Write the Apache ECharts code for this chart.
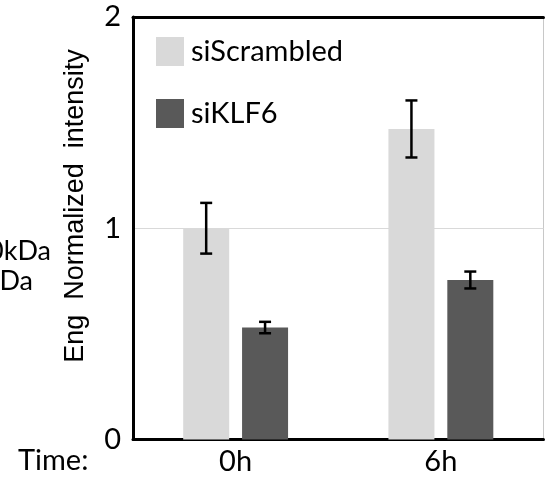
<!DOCTYPE html>
<html>
<head>
<meta charset="utf-8">
<script src="https://cdn.jsdelivr.net/npm/echarts@6/dist/echarts.min.js"></script>
<style>
html,body{margin:0;padding:0;background:#fff;}
#chart{width:545px;height:482px;}
</style>
</head>
<body>
<div id="chart"></div>
<script>
const categories = ['0h', '6h'];
const seriesNames = ['siScrambled', 'siKLF6'];
const siScrambled = [1.0, 1.47];
const siScrambledErr = [0.12, 0.135];
const siKLF6 = [0.53, 0.755];
const siKLF6Err = [0.027, 0.04];
const yTicks = [0, 1, 2];

const BAR_W = 46;
const BAR_GAP = 0.28;
const calibriLike = 'Lato, "Open Sans", sans-serif';

function errData(vals, errs, sIdx) {
  return vals.map((v, i) => [i, v - errs[i], v + errs[i], sIdx]);
}

const chart = echarts.init(document.getElementById('chart'), null, {renderer: 'canvas'});

const option = {
  animation: false,
  backgroundColor: '#fff',
  grid: {
    left: 133, right: 1.5, top: 17, bottom: 42.5,
    show: true, borderColor: '#c8c8c8', borderWidth: 1, backgroundColor: '#fff'
  },
  legend: {
    data: seriesNames,
    orient: 'vertical',
    left: 151, top: 32,
    itemWidth: 28, itemHeight: 29, itemGap: 33,
    icon: 'rect',
    textStyle: {fontFamily: calibriLike, fontSize: 29, color: '#000', padding: [0, 0, 0, 2]}
  },
  xAxis: [{
    type: 'category', data: categories, position: 'bottom',
    axisLine: {show: true, lineStyle: {color: '#000', width: 3}},
    axisTick: {show: false},
    axisLabel: {fontFamily: calibriLike, fontSize: 29, color: '#000', margin: 8}
  }, {
    type: 'category', data: categories, position: 'top',
    axisLine: {show: true, lineStyle: {color: '#000', width: 3}},
    axisTick: {show: false}, axisLabel: {show: false}
  }],
  yAxis: {
    type: 'value', min: yTicks[0], max: yTicks[yTicks.length - 1], interval: 1,
    axisLine: {show: true, lineStyle: {color: '#000', width: 3}},
    axisTick: {show: false},
    splitLine: {show: true, lineStyle: {color: '#d9d9d9', width: 1}},
    axisLabel: {fontFamily: calibriLike, fontSize: 29, color: '#000', margin: 12}
  },
  graphic: [
    {type: 'text', left: 18, top: 446, style: {text: 'Time:', font: '29px ' + calibriLike, fill: '#000'}},
    {type: 'text', x: 51, y: 251, style: {text: '0kDa', font: '27px ' + calibriLike, fill: '#000', textAlign: 'right', textVerticalAlign: 'middle'}},
    {type: 'text', x: 33, y: 281, style: {text: 'Da', font: '27px ' + calibriLike, fill: '#000', textAlign: 'right', textVerticalAlign: 'middle'}},
    {type: 'text', x: 76, y: 206, rotation: Math.PI / 2,
     style: {text: 'Eng  Normalized  intensity', font: '27px "Liberation Sans", Arial, sans-serif', fill: '#000', textAlign: 'center', textVerticalAlign: 'middle'}}
  ],
  series: [
    {name: seriesNames[0], type: 'bar', data: siScrambled, barWidth: BAR_W, barGap: (BAR_GAP * 100) + '%',
     itemStyle: {color: '#d9d9d9'}},
    {name: seriesNames[1], type: 'bar', data: siKLF6, barWidth: BAR_W,
     itemStyle: {color: '#595959'}},
    {
      type: 'custom', z: 10,
      data: errData(siScrambled, siScrambledErr, 0).concat(errData(siKLF6, siKLF6Err, 1)),
      renderItem: function (params, api) {
        const c = api.value(0);
        const lo = api.coord([c, api.value(1)]);
        const hi = api.coord([c, api.value(2)]);
        const off = (BAR_W * (1 + BAR_GAP)) / 2 * (api.value(3) === 0 ? -1 : 1);
        const x = lo[0] + off;
        const hw = 6;
        const st = {stroke: '#000', lineWidth: 2.5};
        return {
          type: 'group',
          children: [
            {type: 'line', shape: {x1: x, y1: hi[1], x2: x, y2: lo[1]}, style: st},
            {type: 'line', shape: {x1: x - hw, y1: hi[1], x2: x + hw, y2: hi[1]}, style: st},
            {type: 'line', shape: {x1: x - hw, y1: lo[1], x2: x + hw, y2: lo[1]}, style: st}
          ]
        };
      }
    }
  ]
};
chart.setOption(option);
</script>
</body>
</html>
